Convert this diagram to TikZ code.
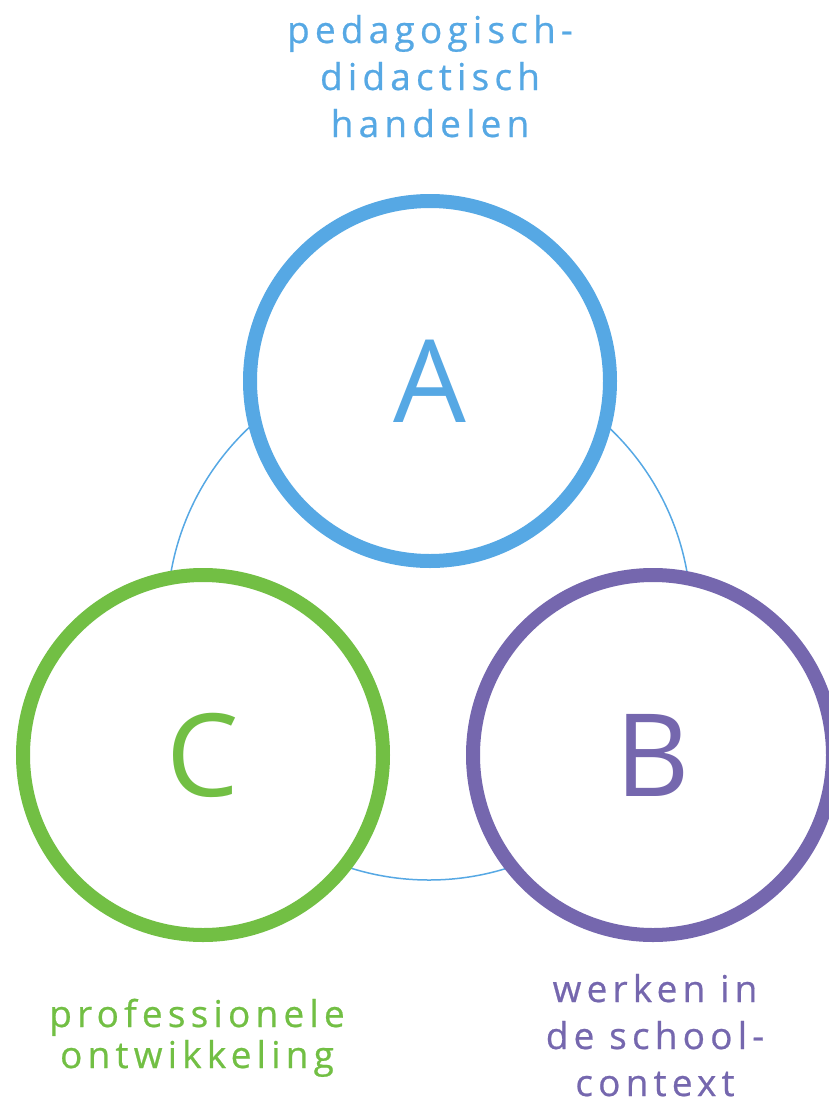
\documentclass[tikz,border=0pt]{standalone}
\usepackage{fontspec}
\setmainfont{Open Sans}
\newfontfamily\labelfont[LetterSpace=14,FakeBold=0.6]{Open Sans}
\definecolor{cblue}{HTML}{56A8E4}
\definecolor{cgreen}{HTML}{72BF44}
\definecolor{cpurple}{HTML}{7567AE}
\begin{document}
\begin{tikzpicture}[x=1pt,y=-1pt,
  ring/.style={circle, draw=#1, line width=14pt, fill=white, minimum size=360pt, inner sep=0pt,
    text=#1, font=\fontsize{115}{120}\selectfont},
  lbl/.style={text=#1, align=center, inner sep=0pt, font=\labelfont\fontsize{37}{47}\selectfont},
  link/.style={draw=cblue, line width=1.5pt}]
\useasboundingbox (0,0) rectangle (828,1103);
\coordinate (O) at (429,618);
\draw[link] (O) circle (262pt);
\node[ring=cblue] (A) at (430,381) {A};
\node[ring=cgreen] (C) at (203,755) {C};
\node[ring=cpurple] (B) at (653,755) {B};
\node[lbl=cblue, anchor=base] (la) at (430,137) {pedagogisch-\\didactisch\\handelen};
\node[lbl=cgreen, anchor=base, font=\labelfont\fontsize{37}{41}\selectfont] (lc) at (197,1068) {professionele\\ontwikkeling};
\node[lbl=cpurple, anchor=base] (lb) at (655,1096) {werken in\\de school-\\context};
\end{tikzpicture}
\end{document}
